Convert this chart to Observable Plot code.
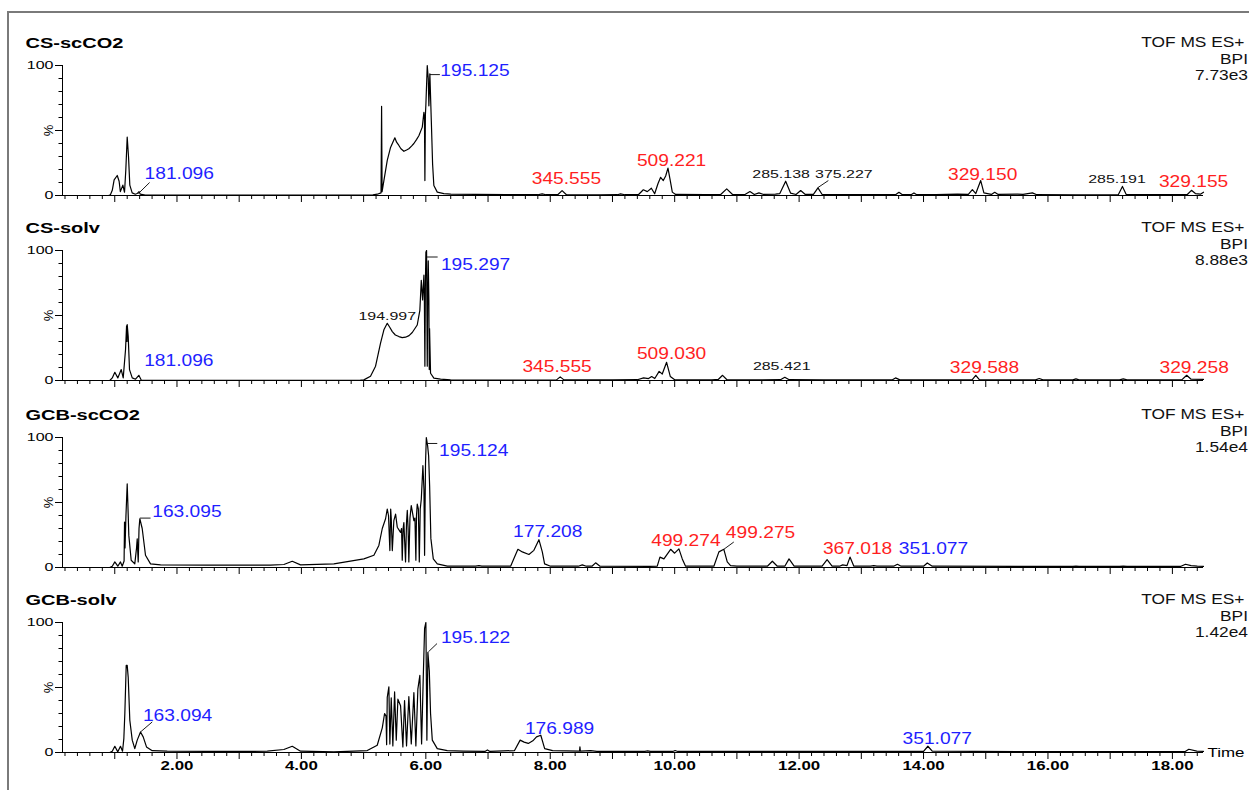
<!DOCTYPE html>
<html><head><meta charset="utf-8">
<script src="https://cdn.jsdelivr.net/npm/d3@7"></script>
<script src="https://cdn.jsdelivr.net/npm/@observablehq/plot@0.6"></script>
<style>
body{margin:0;background:#fff;}
#chart{position:relative;width:1249px;height:790px;overflow:hidden;background:#fff;}
#frame{position:absolute;left:7px;top:11px;width:1260px;height:800px;border-left:2px solid #7a7a7a;border-top:2px solid #7a7a7a;}
</style></head><body><div id="chart"><div id="frame"></div></div>
<script>
// ---------------- data ----------------
const samples = ["CS-scCO2", "CS-solv", "GCB-scCO2", "GCB-solv"];
const instrumentLine = "TOF MS ES+";
const traceType = "BPI";
const basePeakIntensity = ["7.73e3", "8.88e3", "1.54e4", "1.42e4"];
const timeDomain = [0.16, 18.5];
const majorTimes = [1,2,3,4,5,6,7,8,9,10,11,12,13,14,15,16,17,18];
const labeledTimes = [2,4,6,8,10,12,14,16,18];
const timeTickLabels = ["2.00","4.00","6.00","8.00","10.00","12.00","14.00","16.00","18.00"];
const majorPct = [0, 50, 100];
const minorPct = [10, 20, 30, 40, 60, 70, 80, 90];

// [time (min), relative intensity (%)]
const traceCsScco2 = [[0.16,0],[0.90,0],[0.93,0.5],[0.96,4],[0.99,12],[1.04,15.4],[1.07,11],[1.09,3],[1.13,8],[1.157,2.5],[1.178,20],[1.20,45],[1.221,30],[1.242,8],[1.28,2],[1.33,1],[1.36,1.5],[1.39,3],[1.41,1],[1.49,0.3],[2.5,0.3],[3.5,0.4],[4.5,0.3],[5.15,0.5],[5.22,1],[5.28,2],[5.289,68.5],[5.297,3],[5.326,11.5],[5.38,27],[5.433,37],[5.502,44.4],[5.53,41],[5.567,38.5],[5.60,36],[5.647,34],[5.69,35],[5.727,36],[5.77,38],[5.808,40],[5.85,43],[5.888,46],[5.943,52.6],[5.969,64],[5.978,60],[5.985,11.5],[5.993,62],[6.001,70],[6.023,100],[6.039,90],[6.049,69],[6.065,93.6],[6.088,57.7],[6.109,24],[6.129,7.7],[6.184,2.6],[6.29,1.5],[6.40,1],[6.8,0.8],[7.3,0.6],[7.8,0.6],[7.87,1.3],[7.93,0.6],[8.12,0.6],[8.19,3.8],[8.26,0.6],[8.8,0.5],[9.08,0.6],[9.13,1.2],[9.2,0.6],[9.42,0.8],[9.496,4.4],[9.56,3],[9.625,5.6],[9.678,1.3],[9.731,9],[9.774,14],[9.817,11.5],[9.855,15],[9.892,21],[9.924,12.8],[9.962,2.6],[10.015,0.8],[10.5,0.6],[10.74,0.8],[10.836,5.1],[10.93,0.8],[11.13,0.7],[11.21,3],[11.28,0.8],[11.354,2],[11.43,0.8],[11.62,1],[11.69,1.5],[11.784,11],[11.864,1.8],[11.95,0.8],[12.025,3.8],[12.10,0.8],[12.23,0.8],[12.303,5.9],[12.37,0.8],[12.8,0.6],[13.2,0.6],[13.55,0.6],[13.605,2.5],[13.66,0.6],[13.80,0.6],[13.846,2],[13.89,0.6],[14.2,0.6],[14.544,1],[14.72,0.8],[14.785,4.5],[14.84,1.5],[14.919,11.5],[14.97,2],[15.09,0.8],[15.144,2.5],[15.2,0.8],[15.509,1],[15.6,0.8],[15.75,2],[15.82,0.6],[16.45,0.5],[17.13,0.6],[17.197,7],[17.26,0.6],[17.9,0.6],[18.24,0.8],[18.306,4],[18.37,1.5],[18.45,1],[18.5,2.5]];

const traceCsSolv = [[0.16,0],[0.92,0],[0.96,2],[1.001,6.3],[1.049,2],[1.104,8.4],[1.136,2],[1.173,23.7],[1.19,42],[1.197,30],[1.200,43],[1.216,34],[1.237,8.4],[1.281,2],[1.334,1],[1.387,4],[1.425,0.3],[2.5,0.2],[4.0,0.2],[4.95,0.3],[5.004,0.5],[5.111,3.3],[5.192,11],[5.272,28.8],[5.326,39],[5.38,44],[5.42,41],[5.461,37.6],[5.51,35],[5.567,33.8],[5.62,33],[5.674,33.3],[5.73,34.5],[5.782,36.9],[5.862,42.7],[5.904,54],[5.927,77],[5.948,62],[5.969,81],[5.977,60],[5.985,11],[5.993,75],[6.001,98.7],[6.012,100],[6.018,50],[6.023,11],[6.03,60],[6.039,92],[6.049,62],[6.055,8.4],[6.06,40],[6.076,5.6],[6.129,1.8],[6.237,1],[6.398,0.5],[7.0,0.4],[7.9,0.4],[8.10,0.5],[8.16,2.8],[8.22,0.5],[9.0,0.5],[9.40,0.6],[9.50,2],[9.58,1.5],[9.63,3],[9.68,1.5],[9.75,7],[9.80,5],[9.87,14],[9.93,3],[10.0,0.6],[10.6,0.5],[10.70,0.8],[10.77,4],[10.84,0.6],[11.3,0.5],[11.70,0.6],[11.77,2.5],[11.84,0.6],[12.4,0.5],[13.50,0.5],[13.55,2],[13.62,0.5],[14.78,0.5],[14.84,4],[14.90,0.5],[15.80,0.5],[15.86,1.5],[15.92,0.5],[16.40,0.5],[16.45,1.3],[16.50,0.5],[17.15,0.5],[17.21,1.3],[17.27,0.5],[18.15,0.5],[18.23,4],[18.30,1],[18.5,0.8]];

const traceGcbScco2 = [[0.16,0],[0.92,0],[0.96,1],[1.001,4.3],[1.049,1],[1.092,4.3],[1.12,1],[1.15,5],[1.157,35],[1.165,15],[1.18,40],[1.2,64.3],[1.21,50],[1.226,24.7],[1.264,5.6],[1.322,2.8],[1.35,15],[1.361,22],[1.377,4.3],[1.39,30],[1.403,37.5],[1.441,30],[1.494,9.4],[1.575,2.8],[1.736,2],[2.5,1.8],[3.0,1.8],[3.5,1.9],[3.718,2.3],[3.853,4.8],[3.986,2],[4.522,2.8],[5.004,6.6],[5.165,9.4],[5.245,17],[5.300,30],[5.353,37.5],[5.38,45],[5.40,40],[5.422,13],[5.435,45],[5.444,38],[5.461,13],[5.486,36],[5.514,41],[5.541,31],[5.594,27],[5.61,30],[5.621,5.6],[5.635,30],[5.647,34.6],[5.66,20],[5.674,4.3],[5.69,35],[5.702,43.9],[5.715,30],[5.727,4.3],[5.745,38],[5.766,47.7],[5.808,36],[5.825,38],[5.84,5.6],[5.85,40],[5.862,48.7],[5.88,45],[5.895,4.3],[5.91,45],[5.927,52.5],[5.953,78.3],[5.97,60],[5.98,9.4],[5.995,80],[6.008,100],[6.029,93.6],[6.045,86],[6.061,63],[6.081,22.4],[6.12,6.6],[6.184,2.8],[6.345,1],[6.6,1],[6.8,1],[6.853,1.5],[6.9,1],[7.363,1],[7.416,7],[7.48,14],[7.551,12],[7.657,10],[7.737,13.2],[7.818,21.4],[7.872,12],[7.909,2.8],[8.005,1],[8.45,1],[8.515,2],[8.58,1],[8.67,1],[8.729,3.6],[8.80,1],[9.6,0.8],[9.72,1],[9.763,8],[9.827,6.6],[9.935,14],[9.999,11],[10.068,14.3],[10.122,6.6],[10.175,1],[10.63,1],[10.711,12],[10.79,14],[10.845,4.3],[10.898,1.5],[11.0,1],[11.49,1],[11.57,4.8],[11.65,1],[11.77,1],[11.838,6.6],[11.92,1],[12.37,1],[12.45,6],[12.53,1],[12.65,1],[12.70,2],[12.77,1.5],[12.818,8],[12.88,1],[13.15,1],[13.20,1.5],[13.25,1],[13.52,1],[13.58,2.5],[13.64,1],[14.0,1],[14.06,3.5],[14.14,1],[16.4,0.8],[16.45,1],[16.5,0.8],[17.15,0.8],[17.21,1],[17.27,0.8],[18.13,0.8],[18.21,2.5],[18.30,1.5],[18.40,1],[18.5,0.8]];

const traceGcbSolv = [[0.16,0],[0.92,0],[0.96,1],[1.001,4.8],[1.049,0.5],[1.092,4.8],[1.125,1],[1.146,10.7],[1.162,30],[1.184,67],[1.2,67],[1.216,58],[1.242,24.8],[1.281,9.5],[1.322,3],[1.361,9.5],[1.414,15.8],[1.457,12],[1.51,4.3],[1.602,1.4],[1.843,1],[2.5,0.8],[3.0,0.8],[3.451,1],[3.718,2.3],[3.853,4.8],[3.986,1],[4.522,0.5],[5.059,1.5],[5.219,5.6],[5.3,19],[5.337,30],[5.36,28],[5.37,6],[5.38,42.5],[5.406,50.5],[5.422,6.5],[5.444,42],[5.47,5],[5.498,46.6],[5.525,9.5],[5.551,41],[5.594,36],[5.631,4.3],[5.658,40],[5.69,5],[5.727,43],[5.766,6.6],[5.808,46],[5.84,5],[5.872,48.7],[5.904,59.4],[5.932,6.6],[5.959,58],[5.98,95.4],[6.001,100],[6.017,9.5],[6.033,77],[6.056,62.6],[6.076,30],[6.104,9.5],[6.184,3],[6.345,1.4],[6.6,1],[6.95,0.8],[6.99,2],[7.03,0.8],[7.426,1.5],[7.516,9.5],[7.58,8],[7.647,7],[7.72,9],[7.779,12],[7.848,13.3],[7.91,3],[8.038,1.5],[8.47,1],[8.477,4.3],[8.485,1],[8.65,1.5],[8.75,0.8],[9.52,0.8],[9.565,1.2],[9.61,0.8],[9.97,0.8],[10.007,1.5],[10.05,0.8],[14.0,0.8],[14.07,4.8],[14.14,1],[16.0,0.6],[18.2,0.6],[18.264,2.5],[18.393,1],[18.5,0.8]];

// peak annotations: m/z text, label time, label level (%), kind, optional leader [from, to]
const labelsCsScco2 = [
  {mz:"181.096", t:2.036, level:12.8, kind:"target", leader:[[1.38,1.5],[1.56,10]]},
  {mz:"195.125", t:6.79, level:92.3, kind:"target", leader:[[6.065,93],[6.226,93]]},
  {mz:"345.555", t:8.26, level:9.2, kind:"contaminant"},
  {mz:"509.221", t:9.95, level:23, kind:"contaminant"},
  {mz:"285.138", t:11.71, level:13.3, kind:"other"},
  {mz:"375.227", t:12.72, level:13.3, kind:"other", leader:[[12.30,6],[12.47,11.5]]},
  {mz:"329.150", t:14.95, level:12.1, kind:"contaminant"},
  {mz:"285.191", t:17.11, level:9.5, kind:"other"},
  {mz:"329.155", t:18.34, level:6.4, kind:"contaminant"}
];
const labelsCsSolv = [
  {mz:"181.096", t:2.03, level:11.5, kind:"target"},
  {mz:"194.997", t:5.38, level:46.6, kind:"other"},
  {mz:"195.297", t:6.80, level:84.7, kind:"target", leader:[[6.02,95],[6.19,95]]},
  {mz:"345.555", t:8.11, level:6.9, kind:"contaminant"},
  {mz:"509.030", t:9.95, level:16.8, kind:"contaminant"},
  {mz:"285.421", t:11.72, level:8.4, kind:"other"},
  {mz:"329.588", t:14.98, level:5.9, kind:"contaminant"},
  {mz:"329.258", t:18.35, level:5.9, kind:"contaminant"}
];
const labelsGcbScco2 = [
  {mz:"163.095", t:2.16, level:38.7, kind:"target", leader:[[1.403,38],[1.575,38]]},
  {mz:"195.124", t:6.77, level:86, kind:"target", leader:[[6.029,95.4],[6.184,95.4]]},
  {mz:"177.208", t:7.96, level:23.4, kind:"target"},
  {mz:"499.274", t:10.18, level:16.5, kind:"contaminant"},
  {mz:"499.275", t:11.38, level:22.7, kind:"contaminant", leader:[[10.79,14],[10.95,19.6]]},
  {mz:"367.018", t:12.94, level:10.7, kind:"contaminant"},
  {mz:"351.077", t:14.16, level:10.7, kind:"target"}
];
const labelsGcbSolv = [
  {mz:"163.094", t:2.01, level:24, kind:"target", leader:[[1.414,15.8],[1.602,23.5]]},
  {mz:"195.122", t:6.80, level:84.6, kind:"target", leader:[[6.04,77.4],[6.18,83.8]]},
  {mz:"176.989", t:8.15, level:14.6, kind:"target"},
  {mz:"351.077", t:14.22, level:6.9, kind:"target"}
];

const traces = [traceCsScco2, traceCsSolv, traceGcbScco2, traceGcbSolv];
const labelSets = [labelsCsScco2, labelsCsSolv, labelsGcbScco2, labelsGcbSolv];

// ---------------- drawing ----------------
const kindColor = {target: "#1f1fff", contaminant: "#ff1f1f", other: "#111111"};
const font = "Liberation Sans, Arial, Helvetica, sans-serif";
const minorTimes = d3.range(1, 93).map(i => i / 5).filter(d => Math.abs(d - Math.round(d)) > 1e-6);
const panelTops = [13, 198, 385, 570];
// distinct font sizes let each text group be found again for horizontal stretching
const FS = {peak: 16, small: 11, title: 14.5, instr: 14, time: 13.01, pct: 13};
const stretchBy = {peak: 1.2, small: 1.45, title: 1.38, instr: 1.24, time: 1.3};

function stretchTexts(svg, selector, s) {
  for (const t of svg.querySelectorAll(selector)) {
    let tr = t.getAttribute("transform") || "";
    const x = t.getAttribute("x");
    if (x != null && !isNaN(+x) && +x !== 0) { tr += ` translate(${x},0)`; t.setAttribute("x", 0); }
    t.setAttribute("transform", `${tr} scale(${s},1)`);
  }
}

function drawPanel(i) {
  const last = i === samples.length - 1;
  const labels = labelSets[i];
  const leaders = labels.filter(d => d.leader).map(d => ({x1: d.leader[0][0], y1: d.leader[0][1], x2: d.leader[1][0], y2: d.leader[1][1]}));
  const big = labels.filter(d => d.kind !== "other");
  const small = labels.filter(d => d.kind === "other");
  const svg = Plot.plot({
    width: 1249,
    height: 52 + 130 + (last ? 32 : 12),
    marginTop: 52, marginBottom: last ? 32 : 12, marginLeft: 62, marginRight: 46,
    style: {fontFamily: font, background: "transparent", overflow: "visible"},
    x: {domain: timeDomain},
    y: {domain: [0, 100]},
    marks: [
      Plot.axisY(majorPct, {tickSize: 7, tickPadding: 2, fontSize: 11.5, tickFormat: d => d === 50 ? "" : String(d), label: null}),
      Plot.axisY(minorPct, {tickSize: 3.5, tickFormat: () => "", label: null}),
      last
        ? Plot.axisX(labeledTimes, {tickSize: 7, tickPadding: 1, fontSize: 13, fontWeight: "bold", tickFormat: d => timeTickLabels[labeledTimes.indexOf(d)], label: null})
        : Plot.axisX(labeledTimes, {tickSize: 7, tickFormat: () => "", label: null}),
      Plot.axisX(majorTimes.filter(d => !labeledTimes.includes(d)), {tickSize: 7, tickFormat: () => "", label: null}),
      Plot.axisX(minorTimes, {tickSize: 4, tickFormat: () => "", label: null}),
      Plot.ruleY([0], {stroke: "#000", strokeWidth: 1}),
      Plot.ruleX([timeDomain[0]], {stroke: "#000", strokeWidth: 1}),
      Plot.line(traces[i], {x: d => d[0], y: d => d[1], stroke: "#000", strokeWidth: 1.2}),
      Plot.link(leaders, {x1: "x1", y1: "y1", x2: "x2", y2: "y2", stroke: "#000", strokeWidth: 0.9}),
      ...["target", "contaminant"].map(k => Plot.text(big.filter(d => d.kind === k), {x: "t", y: "level", text: "mz", fill: kindColor[k], fontSize: FS.peak, textAnchor: "middle", lineAnchor: "bottom"})),
      Plot.text(small, {x: "t", y: "level", text: "mz", fill: kindColor.other, fontSize: FS.small, textAnchor: "middle", lineAnchor: "bottom"}),
      Plot.text([samples[i]], {frameAnchor: "top-left", dx: -37, dy: -18, text: d => d, textAnchor: "start", lineAnchor: "bottom", fontWeight: "bold", fontSize: FS.title, fill: "#000"}),
      Plot.text([instrumentLine], {frameAnchor: "top-right", dx: 41, dy: -18.3, text: d => d, textAnchor: "end", lineAnchor: "bottom", fontSize: FS.instr, fill: "#111"}),
      Plot.text([traceType], {frameAnchor: "top-right", dx: 44.5, dy: -2, text: d => d, textAnchor: "end", lineAnchor: "bottom", fontSize: FS.instr, fill: "#111"}),
      Plot.text([basePeakIntensity[i]], {frameAnchor: "top-right", dx: 44.5, dy: 14, text: d => d, textAnchor: "end", lineAnchor: "bottom", fontSize: FS.instr, fill: "#111"}),
      Plot.text([50], {y: d => d, frameAnchor: "left", dx: -14, text: () => "%", rotate: -90, textAnchor: "middle", lineAnchor: "middle", fontSize: FS.pct, fill: "#000"}),
      ...(last ? [Plot.text(["Time"], {frameAnchor: "bottom-right", dx: 4, text: d => d, textAnchor: "start", lineAnchor: "middle", fontSize: FS.time, fill: "#000"})] : [])
    ]
  });
  for (const k of Object.keys(stretchBy)) stretchTexts(svg, `g[font-size="${FS[k]}"] text`, stretchBy[k]);
  stretchTexts(svg, '[aria-label="y-axis tick label"] text', 1.39);
  stretchTexts(svg, '[aria-label="x-axis tick label"] text', 1.3);
  svg.style.position = "absolute";
  svg.style.left = "0px";
  svg.style.top = panelTops[i] + "px";
  return svg;
}

const chart = document.getElementById("chart");
samples.forEach((s, i) => chart.appendChild(drawPanel(i)));
</script>
</body></html>
